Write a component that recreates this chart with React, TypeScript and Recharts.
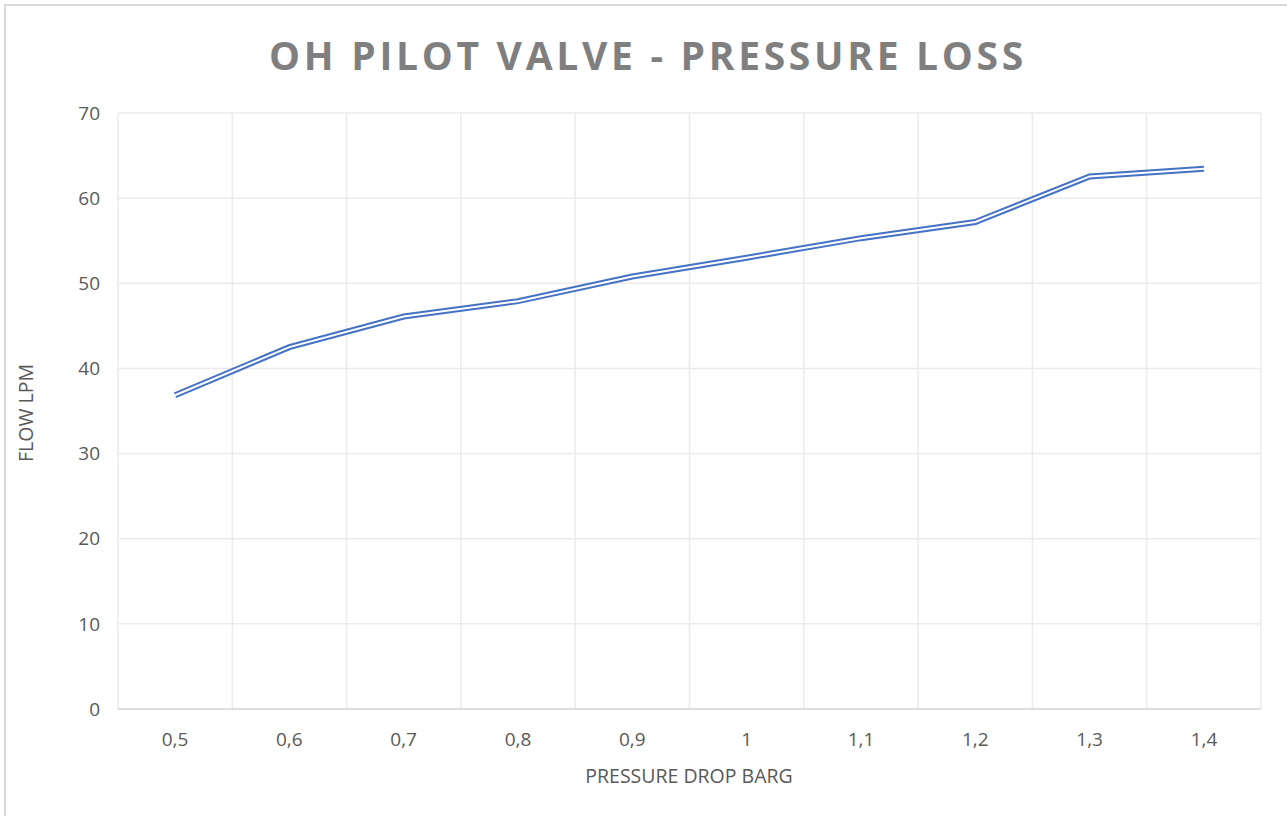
import React from "react";
import { CartesianGrid, Line, LineChart, XAxis, YAxis } from "recharts";

const pressureDrop = ["0,5", "0,6", "0,7", "0,8", "0,9", "1", "1,1", "1,2", "1,3", "1,4"];
const flowLpm = [36.85, 42.5, 46.1, 47.9, 50.8, 53.0, 55.3, 57.2, 62.55, 63.45];
const flowTicks = [0, 10, 20, 30, 40, 50, 60, 70];

const data = pressureDrop.map((p, i) => ({ p, flow: flowLpm[i] }));

const FONT = "'Open Sans', sans-serif";
const BLUE = "#4472C4";

export default function App() {
  const n = pressureDrop.length;

  return (
    <div
      style={{
        position: "fixed",
        left: 0,
        top: 0,
        width: 1287,
        height: 816,
        overflow: "hidden",
        background: "#fff",
        fontFamily: FONT,
      }}
    >
      {/* chart frame, runs off the right and bottom edge */}
      <div
        style={{
          position: "absolute",
          left: 4,
          top: 4,
          width: 1300,
          height: 830,
          border: "2px solid #d9d9d9",
        }}
      />

      <div
        style={{
          position: "absolute",
          left: 0,
          top: 29,
          width: 1296,
          textAlign: "center",
          fontSize: 39,
          fontWeight: 700,
          letterSpacing: 3.7,
          color: "#7f7f7f",
          lineHeight: "52px",
        }}
      >
        OH PILOT VALVE - PRESSURE LOSS
      </div>

      <div style={{ position: "absolute", left: 0, top: 0 }}>
        <LineChart
          width={1287}
          height={816}
          data={data}
          margin={{ top: 113, right: 26, left: 0, bottom: 0 }}
        >
          <CartesianGrid
            stroke="#ebebeb"
            strokeWidth={1.5}
            verticalCoordinatesGenerator={({ offset }: any) =>
              Array.from({ length: n + 1 }, (_, i) => offset.left + (i * offset.width) / n)
            }
          />
          <XAxis
            dataKey="p"
            height={107}
            padding={{ left: 57, right: 57 }}
            tickSize={0}
            tickMargin={24}
            axisLine={{ stroke: "#d9d9d9", strokeWidth: 1.5 }}
            tick={{ fontSize: 19, fill: "#595959", fontFamily: FONT }}
          />
          <YAxis
            width={118}
            domain={[0, 70]}
            ticks={flowTicks}
            tickSize={0}
            tickMargin={18}
            axisLine={false}
            tick={{ fontSize: 19, fill: "#595959", fontFamily: FONT }}
          />
          <Line
            key="outer"
            type="linear"
            dataKey="flow"
            stroke={BLUE}
            strokeWidth={6}
            dot={false}
            isAnimationActive={false}
          />
          <Line
            key="inner"
            type="linear"
            dataKey="flow"
            stroke="#ffffff"
            strokeWidth={2}
            dot={false}
            isAnimationActive={false}
          />
        </LineChart>
      </div>

      <div
        style={{
          position: "absolute",
          left: 25,
          top: 413,
          transform: "translate(-50%, -50%) rotate(-90deg)",
          fontSize: 19.5,
          color: "#595959",
          whiteSpace: "nowrap",
        }}
      >
        FLOW LPM
      </div>

      <div
        style={{
          position: "absolute",
          left: 689,
          top: 775,
          transform: "translate(-50%, -50%)",
          fontSize: 19.5,
          color: "#595959",
          whiteSpace: "nowrap",
        }}
      >
        PRESSURE DROP BARG
      </div>
    </div>
  );
}
